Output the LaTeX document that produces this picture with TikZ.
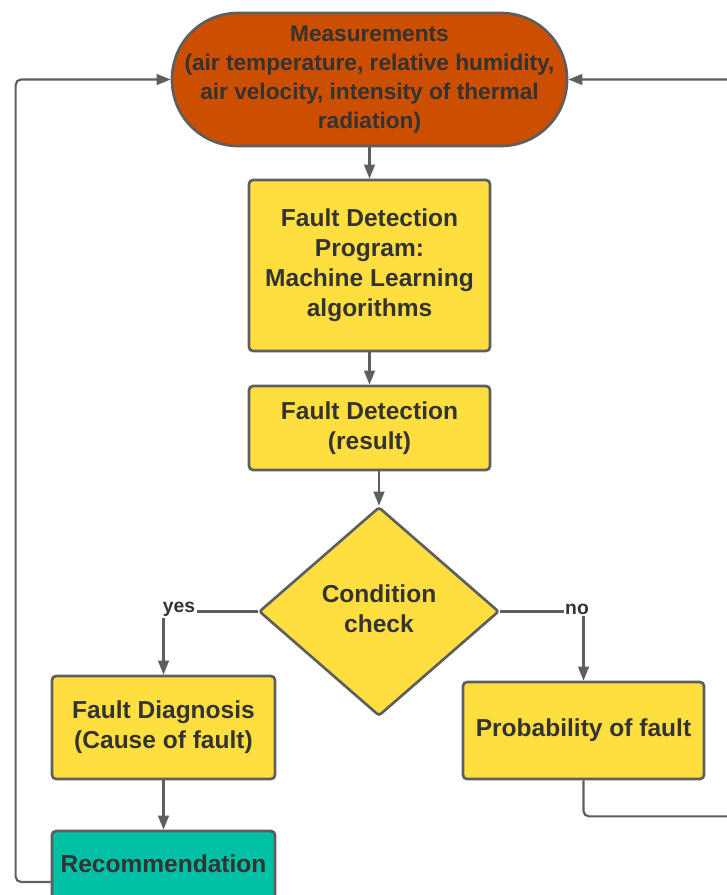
\documentclass[tikz,border=0pt]{standalone}
\usepackage{fontspec}
\setmainfont{Liberation Sans}
\usetikzlibrary{shapes.geometric,arrows.meta,calc}
\definecolor{orng}{RGB}{204,78,0}
\definecolor{yel}{RGB}{255,223,64}
\definecolor{teal2}{RGB}{0,192,166}
\definecolor{edge}{RGB}{94,94,94}
\definecolor{txt}{RGB}{51,51,51}
\begin{document}
\begin{tikzpicture}[x=0.75pt,y=-0.75pt,
  boxbase/.style={draw=edge, line width=2pt, align=center, text=txt, inner sep=0pt,
    font=\fontsize{18.4}{22.5}\selectfont\bfseries},
  ybox/.style={boxbase, fill=yel, rounded corners=3pt},
  topnode/.style={boxbase, fill=orng, rounded corners=49.5pt,
    minimum width=296.25pt, minimum height=99.75pt,
    font=\fontsize{17}{21.75}\selectfont\bfseries},
  dia/.style={boxbase, fill=yel, diamond, aspect=1.15, rounded corners=2pt,
    minimum width=180pt, minimum height=156.75pt},
  lbl/.style={text=txt, font=\fontsize{14.5}{16}\selectfont\bfseries, inner sep=1pt, fill=white},
  conn/.style={draw=edge, line width=1.6pt},
  arr/.style={conn, -{Triangle[length=10.5pt,width=8pt]}}
]
\useasboundingbox (0,0) rectangle (726,895);

\node[topnode] (meas) at (369.5,79.5) {Measurements\\(air temperature, relative humidity,\\air velocity, intensity of thermal\\radiation)};
\node[ybox, minimum width=180.75pt, minimum height=128.25pt] (prog) at (369.5,265.5) {Fault Detection\\Program:\\Machine Learning\\algorithms};
\node[ybox, minimum width=180.75pt, minimum height=63pt] (res) at (369.5,428) {Fault Detection\\(result)};
\node[dia] (cond) at (379,611.5) {\raisebox{4.5pt}{\begin{tabular}{@{}c@{}}Condition\\check\end{tabular}}};
\node[ybox, minimum width=167.25pt, minimum height=77.25pt] (fd) at (163.5,727.5) {Fault Diagnosis\\(Cause of fault)};
\node[ybox, minimum width=180.75pt, minimum height=72.75pt] (pf) at (583.5,730.5) {Probability of fault};
\node[boxbase, fill=teal2, rounded corners=3pt, minimum width=167.25pt, minimum height=52.5pt] (rec) at (163.5,866) {\raisebox{3pt}{Recommendation}};

\node[lbl] (yes) at (179,609) {yes};
\node[lbl] (no) at (577,609) {no};

\draw[arr] (meas.south) -- (prog.north);
\draw[arr] (prog.south) -- (res.north);
\draw[arr] (res.south -| cond.north) -- (cond.north);
\draw[conn] (cond.west) -- (cond.west -| yes.east);
\draw[arr] (yes.south -| fd.north) -- (fd.north);
\draw[conn] (cond.east) -- (cond.east -| no.west);
\draw[arr] (no.south -| pf.north) -- (pf.north);
\draw[arr] (fd.south) -- (rec.north);
\draw[arr, rounded corners=4pt] ($(rec.west)+(0,16)$) -- ++(-35,0) |- (meas.west);
\draw[arr, rounded corners=4pt] (pf.south) -- ++(0,36) -- ++(170,0) |- (meas.east);
\end{tikzpicture}
\end{document}
